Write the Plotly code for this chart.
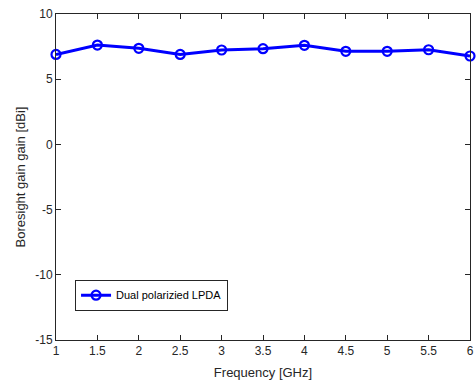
import plotly.graph_objects as go

freq = [1, 1.5, 2, 2.5, 3, 3.5, 4, 4.5, 5, 5.5, 6]
gain = [6.9, 7.62, 7.37, 6.9, 7.24, 7.34, 7.6, 7.14, 7.14, 7.26, 6.78]
series_name = "Dual polarizied LPDA"
x_ticks = [1, 1.5, 2, 2.5, 3, 3.5, 4, 4.5, 5, 5.5, 6]
y_ticks = [-15, -10, -5, 0, 5, 10]

FONT = "Liberation Sans"

fig = go.Figure()
fig.add_trace(go.Scatter(
    x=freq, y=gain, mode="lines+markers", name=series_name, cliponaxis=False,
    line=dict(color="#0000ff", width=3),
    marker=dict(symbol="circle-open", size=9, color="#0000ff", line=dict(width=2.2, color="#0000ff")),
))

axis_common = dict(
    showgrid=False, zeroline=False, showline=True, linecolor="#262626", linewidth=1,
    mirror="ticks", ticks="inside", ticklen=5, tickcolor="#262626", automargin=False,
    tickfont=dict(family=FONT, size=12, color="#262626"),
)
fig.update_xaxes(range=[1, 6], tickvals=x_ticks, ticktext=[str(v) for v in x_ticks],
                 title=dict(text="Frequency [GHz]", font=dict(family=FONT, size=13, color="#262626")),
                 **axis_common)
fig.update_yaxes(range=[-15, 10], tickvals=y_ticks, ticktext=[str(v) for v in y_ticks],
                 title=dict(text="Boresight gain gain [dBi]", font=dict(family=FONT, size=13, color="#262626"), standoff=6),
                 **axis_common)
fig.update_layout(
    width=476, height=380, margin=dict(l=56, r=6, t=14, b=40),
    plot_bgcolor="white", paper_bgcolor="white",
    showlegend=True,
    legend=dict(x=0.046, y=0.185, xanchor="left", yanchor="top",
                bgcolor="white", bordercolor="#262626", borderwidth=1,
                font=dict(family=FONT, size=11, color="#000000"),
                itemwidth=30, tracegroupgap=0),
)
fig.write_html("out.html", config={"displayModeBar": False},
               post_script="document.body.style.margin='0';document.body.style.overflow='hidden';")
